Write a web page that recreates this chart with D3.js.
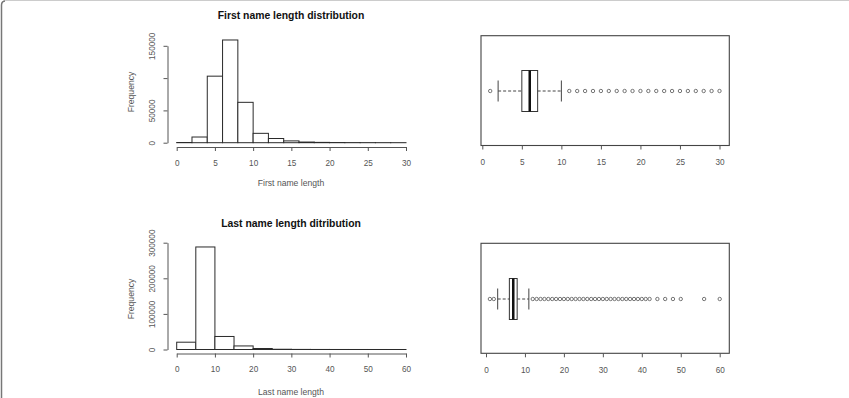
<!DOCTYPE html>
<html>
<head>
<meta charset="utf-8">
<script src="https://cdn.jsdelivr.net/npm/d3@7/dist/d3.min.js"></script>
<style>
  body { margin: 0; background: #fff; }
  svg { display: block; font-family: "Liberation Sans", Arial, sans-serif; }
  .axis path, .axis line { stroke: #555; }
  .axis text { fill: #555; font-size: 8.2px; font-family: "Liberation Sans", Arial, sans-serif; }
</style>
</head>
<body>
<svg id="chart" width="849" height="398"></svg>
<script>
// first name histogram
const firstBreaks = [0, 2, 4, 6, 8, 10, 12, 14, 16, 18, 20, 22, 24, 26, 28, 30];
const firstCounts = [300, 8800, 103000, 159000, 62500, 14500, 6500, 2800, 1000, 500, 250, 150, 100, 60, 40];
const firstXTicks = [0, 5, 10, 15, 20, 25, 30];
const firstYTicks = [0, 50000, 100000, 150000];
const firstYLabels = ["0", "50000", "", "150000"];

// last name histogram
const lastBreaks = [0, 5, 10, 15, 20, 25, 30, 35, 40, 45, 50, 55, 60];
const lastCounts = [20500, 288000, 36600, 10000, 2800, 700, 250, 120, 60, 30, 15, 10];
const lastXTicks = [0, 10, 20, 30, 40, 50, 60];
const lastYTicks = [0, 100000, 200000, 300000];
const lastYLabels = ["0", "100000", "200000", "300000"];

// boxplots: [lower whisker, Q1, median, Q3, upper whisker]
const firstBoxStats = [2, 5, 6, 7, 10];
const firstOutliers = [1, 11, 12, 13, 14, 15, 16, 17, 18, 19, 20, 21, 22, 23, 24, 25, 26, 27, 28, 29, 30];
const lastBoxStats = [3, 6, 7, 8, 11];
const lastOutliers = [1, 2, 12, 13, 14, 15, 16, 17, 18, 19, 20, 21, 22, 23, 24, 25, 26, 27, 28, 29, 30,
  31, 32, 33, 34, 35, 36, 37, 38, 39, 40, 41, 42, 44, 46, 48, 50, 56, 60];

const svg = d3.select("#chart");

// picture border (left + top)
svg.append("path")
  .attr("d", "M1.5,398 L1.5,5 Q1.5,0.5 6,0.5 L849,0.5")
  .attr("fill", "none").attr("stroke", "#ccc");
svg.append("path")
  .attr("d", "M1.5,398 L1.5,5 Q1.5,1.5 5,1")
  .attr("fill", "none").attr("stroke", "#777").attr("stroke-width", 1.5);

function drawHist(opt) {
  var x = d3.scaleLinear().domain([0, opt.xMax]).range([176.7, 406]);
  var y = d3.scaleLinear().domain([0, opt.yMax]).range([opt.base, opt.top]);
  var g = svg.append("g");

  var bins = opt.counts.map(function(c, i) {
    return { x0: opt.breaks[i], x1: opt.breaks[i + 1], n: c };
  });
  g.selectAll("rect.bar").data(bins).enter()
    .append("rect")
    .attr("class", "bar")
    .attr("x", function(d) { return x(d.x0); })
    .attr("width", function(d) { return x(d.x1) - x(d.x0); })
    .attr("y", function(d) { return y(d.n); })
    .attr("height", function(d) { return y(0) - y(d.n); })
    .attr("fill", "#fff")
    .attr("stroke", "#2a2a2a")
    .attr("stroke-width", 1);

  var xAxis = g.append("g")
    .attr("class", "axis")
    .attr("transform", "translate(0," + opt.xAxisY + ")")
    .call(d3.axisBottom(x).tickValues(opt.xTicks).tickSize(4).tickSizeOuter(0));
  xAxis.selectAll("text").attr("y", 13).attr("dy", "0.71em");

  var yAxis = g.append("g")
    .attr("class", "axis")
    .attr("transform", "translate(167.5,0)")
    .call(d3.axisLeft(y).tickValues(opt.yTicks).tickSize(4).tickSizeOuter(0)
      .tickFormat(function(d, i) { return opt.yLabels[i]; }));
  yAxis.selectAll("text")
    .attr("transform", "rotate(-90)")
    .attr("x", 0).attr("y", -13).attr("dy", 0)
    .attr("text-anchor", "middle");

  svg.append("text")
    .attr("x", 291).attr("y", opt.titleY)
    .attr("text-anchor", "middle")
    .attr("font-weight", "bold").attr("font-size", "10.4px").attr("fill", "#111")
    .text(opt.title);
  svg.append("text")
    .attr("x", 291).attr("y", opt.xLabY)
    .attr("text-anchor", "middle")
    .attr("font-size", "8.6px").attr("fill", "#555")
    .text(opt.xLabel);
  svg.append("text")
    .attr("transform", "translate(134," + opt.yLabMid + ") rotate(-90)")
    .attr("text-anchor", "middle")
    .attr("font-size", "8.6px").attr("fill", "#555")
    .text("Frequency");
}

function drawBox(opt) {
  var x = d3.scaleLinear().domain([0, opt.xMax]).range(opt.xRange);
  var g = svg.append("g");
  var cy = opt.mid, h = 20.5, cap = 10.5;
  var s = opt.stats;

  g.append("rect")
    .attr("x", 481).attr("y", opt.frameTop)
    .attr("width", 729.3 - 481).attr("height", opt.frameBottom - opt.frameTop)
    .attr("fill", "none").attr("stroke", "#444").attr("stroke-width", 1.1);

  // whiskers
  [[s[0], s[1]], [s[3], s[4]]].forEach(function(w) {
    g.append("line")
      .attr("x1", x(w[0])).attr("x2", x(w[1]))
      .attr("y1", cy).attr("y2", cy)
      .attr("stroke", "#444").attr("stroke-dasharray", "3,2");
  });
  [s[0], s[4]].forEach(function(v) {
    g.append("line")
      .attr("x1", x(v)).attr("x2", x(v))
      .attr("y1", cy - cap).attr("y2", cy + cap)
      .attr("stroke", "#444");
  });
  g.append("rect")
    .attr("x", x(s[1])).attr("width", x(s[3]) - x(s[1]))
    .attr("y", cy - h).attr("height", 2 * h)
    .attr("fill", "#fff").attr("stroke", "#333");
  g.append("line")
    .attr("x1", x(s[2])).attr("x2", x(s[2]))
    .attr("y1", cy - h).attr("y2", cy + h)
    .attr("stroke", "#111").attr("stroke-width", 2.5);

  g.selectAll("circle.out").data(opt.outliers).enter()
    .append("circle")
    .attr("class", "out")
    .attr("cx", function(d) { return x(d); })
    .attr("cy", cy)
    .attr("r", 1.7)
    .attr("fill", "none")
    .attr("stroke", "#555")
    .attr("stroke-width", 0.8);

  var xAxis = g.append("g")
    .attr("class", "axis")
    .attr("transform", "translate(0," + opt.frameBottom + ")")
    .call(d3.axisBottom(x).tickValues(opt.xTicks).tickSize(4).tickSizeOuter(0));
  xAxis.select(".domain").remove();
  xAxis.selectAll("text").attr("y", 14).attr("dy", "0.71em");
}

drawHist({
  breaks: firstBreaks, counts: firstCounts, xMax: 30, yMax: 150000,
  base: 142.7, top: 45.8, xAxisY: 147, xTicks: firstXTicks,
  yTicks: firstYTicks, yLabels: firstYLabels,
  title: "First name length distribution", titleY: 19,
  xLabel: "First name length", xLabY: 186, yLabMid: 92
});
drawHist({
  breaks: lastBreaks, counts: lastCounts, xMax: 60, yMax: 300000,
  base: 349.5, top: 242.7, xAxisY: 353.5, xTicks: lastXTicks,
  yTicks: lastYTicks, yLabels: lastYLabels,
  title: "Last name length ditribution", titleY: 227,
  xLabel: "Last name length", xLabY: 394.5, yLabMid: 299
});
drawBox({
  stats: firstBoxStats, outliers: firstOutliers, xMax: 30, xRange: [482.3, 719.5],
  frameTop: 35.7, frameBottom: 145.5, mid: 91, xTicks: firstXTicks
});
drawBox({
  stats: lastBoxStats, outliers: lastOutliers, xMax: 60, xRange: [486, 719.7],
  frameTop: 243.3, frameBottom: 353.3, mid: 299, xTicks: lastXTicks
});
</script>
</body>
</html>
